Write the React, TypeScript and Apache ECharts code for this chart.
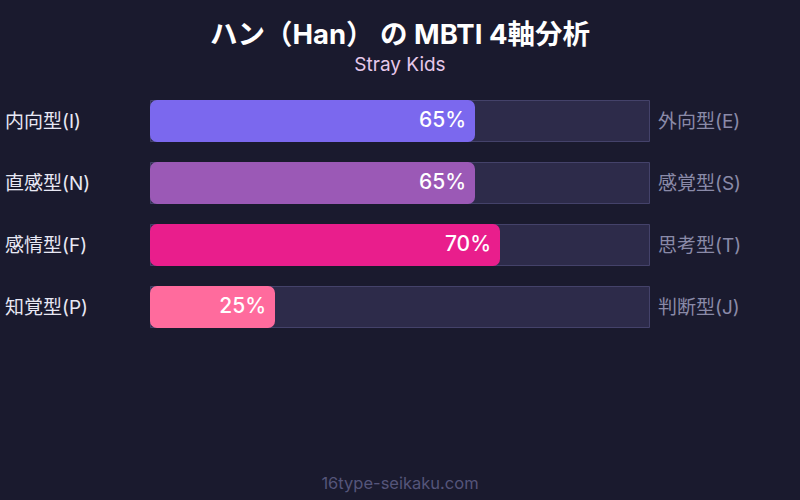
import React, { useEffect, useRef } from 'react';
import * as echarts from 'echarts';

const leftLabels = ['内向型(I)', '直感型(N)', '感情型(F)', '知覚型(P)'];
const rightLabels = ['外向型(E)', '感覚型(S)', '思考型(T)', '判断型(J)'];
const values = [65, 65, 70, 25];
const barColors = ['#7b68ee', '#9b59b6', '#e91e8c', '#ff6b9d'];
const trackValues = [100, 100, 100, 100];

const FONT = "Inter, 'Noto Sans CJK JP', sans-serif";

export default function App() {
  const chartRef = useRef<HTMLDivElement>(null);

  useEffect(() => {
    if (!chartRef.current) return;
    const chart = echarts.init(chartRef.current, null, { renderer: 'svg' });

    chart.setOption({
      animation: false,
      backgroundColor: '#1a1a2e',
      title: {
        text: 'ハン（Han） の MBTI 4軸分析',
        subtext: 'Stray Kids',
        left: 'center',
        top: 15,
        itemGap: 8,
        textStyle: { color: '#ffffff', fontSize: 27.5, fontWeight: 'bold', fontFamily: FONT },
        subtextStyle: { color: '#e6c8ea', fontSize: 19, fontFamily: FONT },
      },
      graphic: [
        {
          type: 'text',
          left: 'center',
          top: 475,
          style: { text: '16type-seikaku.com', fill: '#55557a', fontSize: 16.5, fontFamily: FONT },
        },
      ],
      grid: { left: 150, right: 150, top: 90, height: 248 },
      xAxis: { type: 'value', min: 0, max: 100, show: false },
      yAxis: [
        {
          type: 'category',
          data: leftLabels,
          inverse: true,
          position: 'left',
          axisLine: { show: false },
          axisTick: { show: false },
          axisLabel: {
            align: 'left',
            margin: 145,
            color: '#e8e8f4',
            fontSize: 19,
            fontFamily: FONT,
            padding: [0, 0, 5, 0],
          },
        },
        {
          type: 'category',
          data: rightLabels,
          inverse: true,
          position: 'right',
          axisLine: { show: false },
          axisTick: { show: false },
          axisLabel: {
            margin: 8,
            color: '#8a8aa8',
            fontSize: 19,
            fontFamily: FONT,
            padding: [0, 0, 5, 0],
          },
        },
      ],
      series: [
        {
          type: 'bar',
          yAxisIndex: 0,
          data: trackValues,
          barWidth: 42,
          silent: true,
          itemStyle: { color: '#2d2b4a', borderColor: '#44426a', borderWidth: 1 },
          z: 1,
        },
        {
          type: 'bar',
          yAxisIndex: 0,
          barGap: '-100%',
          barWidth: 42,
          data: values.map((v, i) => ({ value: v, itemStyle: { color: barColors[i] } })),
          itemStyle: { borderRadius: 7 },
          label: {
            show: true,
            position: 'insideRight',
            distance: 9,
            offset: [0, -2],
            formatter: '{c}%',
            color: '#ffffff',
            fontSize: 21,
            fontWeight: 500,
            fontFamily: FONT,
          },
          z: 2,
        },
      ],
    });

    return () => {
      chart.dispose();
    };
  }, []);

  return <div ref={chartRef} style={{ position: 'fixed', left: 0, top: 0, width: 800, height: 500 }} />;
}
